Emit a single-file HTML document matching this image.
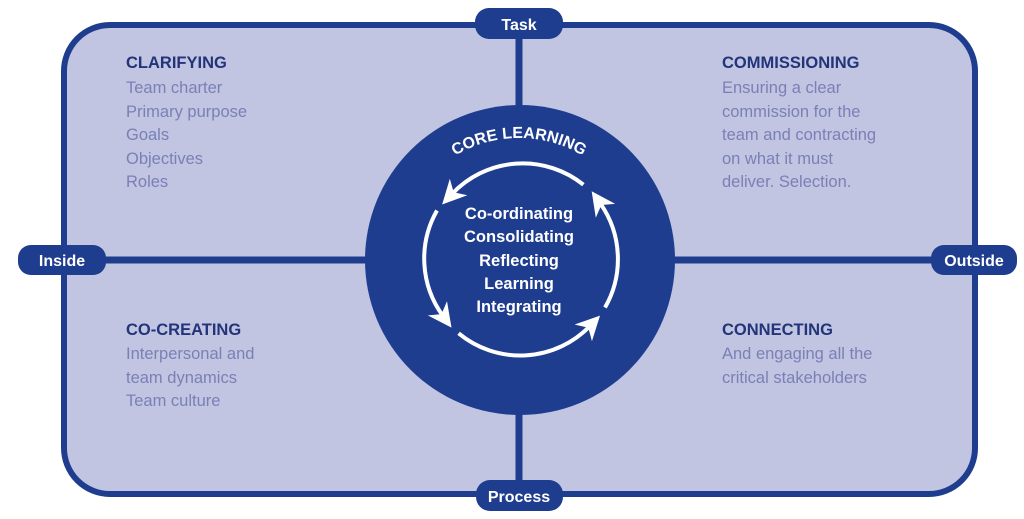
<!DOCTYPE html>
<html><head><meta charset="utf-8"><style>
html,body{margin:0;padding:0;background:#fff;width:1024px;height:519px;overflow:hidden}
svg{display:block}
.h{font-family:"Liberation Sans",sans-serif;font-weight:bold;font-size:16.5px;fill:#22347a}
.t{font-family:"Liberation Sans",sans-serif;font-size:16.5px;fill:#7a80b6}
.w{font-family:"Liberation Sans",sans-serif;font-weight:bold;fill:#fff}
</style></head><body>
<svg width="1024" height="519" viewBox="0 0 1024 519">
<defs>
<marker id="ah" viewBox="0 0 10 10" refX="4" refY="5" markerWidth="6" markerHeight="6" orient="auto" markerUnits="strokeWidth">
<path d="M0,0 L10,5 L0,10 L3,5 Z" fill="#fff"/>
</marker>
<path id="cl" d="M 395,262 A 124,124 0 0 1 643,262" fill="none"/>
</defs>
<rect x="64" y="25" width="911" height="469" rx="46" ry="46" fill="#c1c5e1" stroke="#1f3d8f" stroke-width="6"/>
<line x1="519" y1="25" x2="519" y2="494" stroke="#1f3d8f" stroke-width="7"/>
<line x1="64" y1="260" x2="975" y2="260" stroke="#1f3d8f" stroke-width="7"/>
<circle cx="520" cy="260" r="155" fill="#1f3d8f"/>
<rect x="475" y="8" width="88" height="31" rx="14" fill="#1f3d8f"/>
<text class="w" x="519" y="30" font-size="16" text-anchor="middle">Task</text>
<rect x="476" y="480" width="87" height="31" rx="14" fill="#1f3d8f"/>
<text class="w" x="519" y="502" font-size="16" text-anchor="middle">Process</text>
<rect x="18" y="245" width="88" height="30" rx="13" fill="#1f3d8f"/>
<text class="w" x="62" y="266" font-size="16" text-anchor="middle">Inside</text>
<rect x="931" y="245" width="86" height="30" rx="13" fill="#1f3d8f"/>
<text class="w" x="974" y="266" font-size="16" text-anchor="middle">Outside</text>
<text class="w" font-size="16"><textPath href="#cl" startOffset="50%" text-anchor="middle">CORE LEARNING</textPath></text>
<g fill="none" stroke="#fff" stroke-width="4" marker-end="url(#ah)">
<path d="M583.4,184.7 A97,97 0 0 0 452,194"/>
<path d="M437,210.5 A97,97 0 0 0 443,316"/>
<path d="M458.6,333.3 A97,97 0 0 0 590,326"/>
<path d="M605,307.5 A97,97 0 0 0 600,203"/>
</g>
<g class="w" font-size="16.5" text-anchor="middle">
<text x="519" y="219">Co-ordinating</text>
<text x="519" y="242">Consolidating</text>
<text x="519" y="266">Reflecting</text>
<text x="519" y="289">Learning</text>
<text x="519" y="312">Integrating</text>
</g>
<text class="h" x="126" y="68">CLARIFYING</text>
<text class="t" x="126" y="93">Team charter</text>
<text class="t" x="126" y="117">Primary purpose</text>
<text class="t" x="126" y="140">Goals</text>
<text class="t" x="126" y="164">Objectives</text>
<text class="t" x="126" y="187">Roles</text>
<text class="h" x="722" y="68">COMMISSIONING</text>
<text class="t" x="722" y="93">Ensuring a clear</text>
<text class="t" x="722" y="117">commission for the</text>
<text class="t" x="722" y="140">team and contracting</text>
<text class="t" x="722" y="164">on what it must</text>
<text class="t" x="722" y="187">deliver. Selection.</text>
<text class="h" x="126" y="335">CO-CREATING</text>
<text class="t" x="126" y="359">Interpersonal and</text>
<text class="t" x="126" y="383">team dynamics</text>
<text class="t" x="126" y="406">Team culture</text>
<text class="h" x="722" y="335">CONNECTING</text>
<text class="t" x="722" y="359">And engaging all the</text>
<text class="t" x="722" y="383">critical stakeholders</text>
</svg>
</body></html>
